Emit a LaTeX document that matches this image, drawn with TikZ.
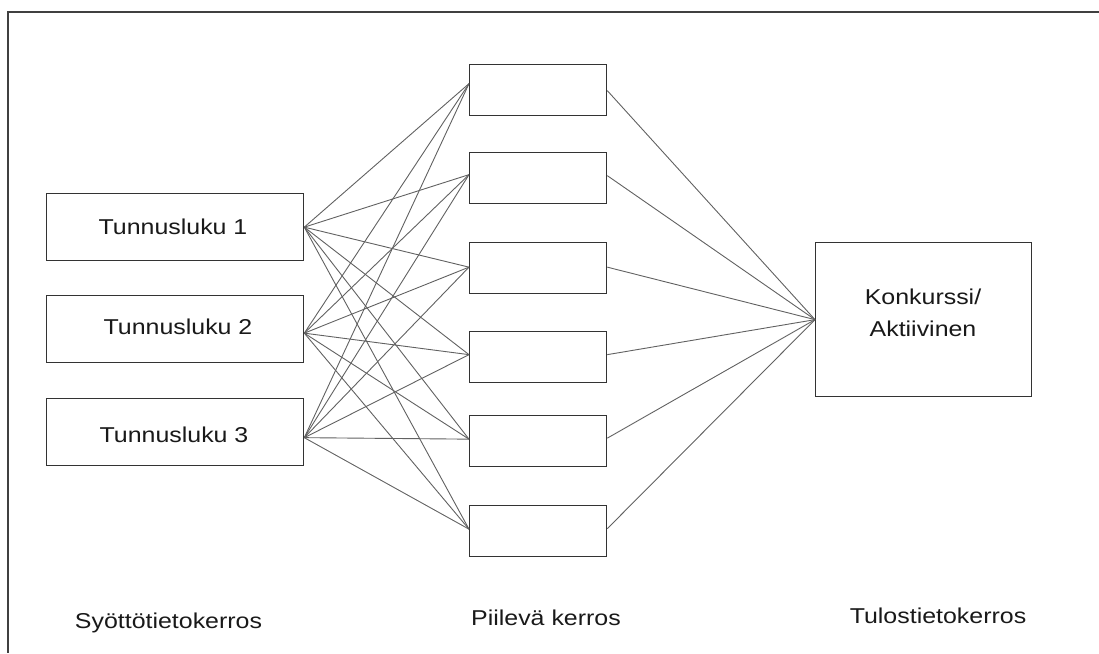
\documentclass[tikz,border=0pt]{standalone}
\usepackage{fontspec}
\setmainfont{Liberation Sans}[FakeStretch=1.16]
\begin{document}
\begin{tikzpicture}[x=1pt,y=-1pt,
  box/.style={draw=black!80, line width=1.3pt, rectangle, inner sep=0pt, anchor=north west},
  inbox/.style={box, minimum width=257pt, minimum height=67pt},
  hidbox/.style={box, minimum width=137pt, minimum height=51pt},
  outbox/.style={box, minimum width=216pt, minimum height=154pt, align=center},
  link/.style={draw=black!62, line width=0.9pt},
  lbl/.style={font=\fontsize{21.5}{32}\selectfont, text=black!90},
  layer/.style={lbl, anchor=base}]
\useasboundingbox (0,0) rectangle (1099,653);
% outer frame (top and left edges)
\draw[black!75, line width=1.6pt] (1099,12) -- (8,12) -- (8,653);

% input layer
\node[inbox] (in1) at (46,193) {};
\node[inbox] (in2) at (46,295) {};
\node[inbox] (in3) at (46,398) {};
\node[lbl, anchor=base] (t1) at (173,234) {Tunnusluku 1};
\node[lbl, anchor=base] (t2) at (178,334) {Tunnusluku 2};
\node[lbl, anchor=base] (t3) at (174,442) {Tunnusluku 3};

% hidden layer
\node[hidbox] (h1) at (469,64) {};
\node[hidbox] (h2) at (469,152) {};
\node[hidbox] (h3) at (469,242) {};
\node[hidbox] (h4) at (469,331) {};
\node[hidbox] (h5) at (469,415) {};
\node[hidbox] (h6) at (469,505) {};

% output layer
\node[outbox] (out) at (815,242) {};
\node[lbl, align=center, anchor=center] (ot) at (923,313) {Konkurssi/\\Aktiivinen};

% connection points on the box edges
\foreach \i/\a in {1/0,2/-4,3/-5.5}
  \coordinate (p\i) at ([yshift=\a pt]in\i.east);
\foreach \j/\b in {1/6.5,2/3.5,3/1,4/2.5,5/2,6/2}
  \coordinate (q\j) at ([yshift=\b pt]h\j.west);
\foreach \j/\b in {1/-0.5,2/2.5,3/1,4/2.5,5/3,6/2.5}
  \coordinate (r\j) at ([yshift=\b pt]h\j.east);

% input -> hidden
\foreach \i in {1,2,3}
  \foreach \j in {1,...,6}
    \draw[link] (p\i) -- (q\j);
% hidden -> output
\foreach \j in {1,...,6}
  \draw[link] (r\j) -- (out.west);

% layer captions
\node[layer] (c1) at (168.5,628) {Syöttötietokerros};
\node[layer] (c2) at (546,625) {Piilevä kerros};
\node[layer] (c3) at (938,623) {Tulostietokerros};
\end{tikzpicture}
\end{document}
